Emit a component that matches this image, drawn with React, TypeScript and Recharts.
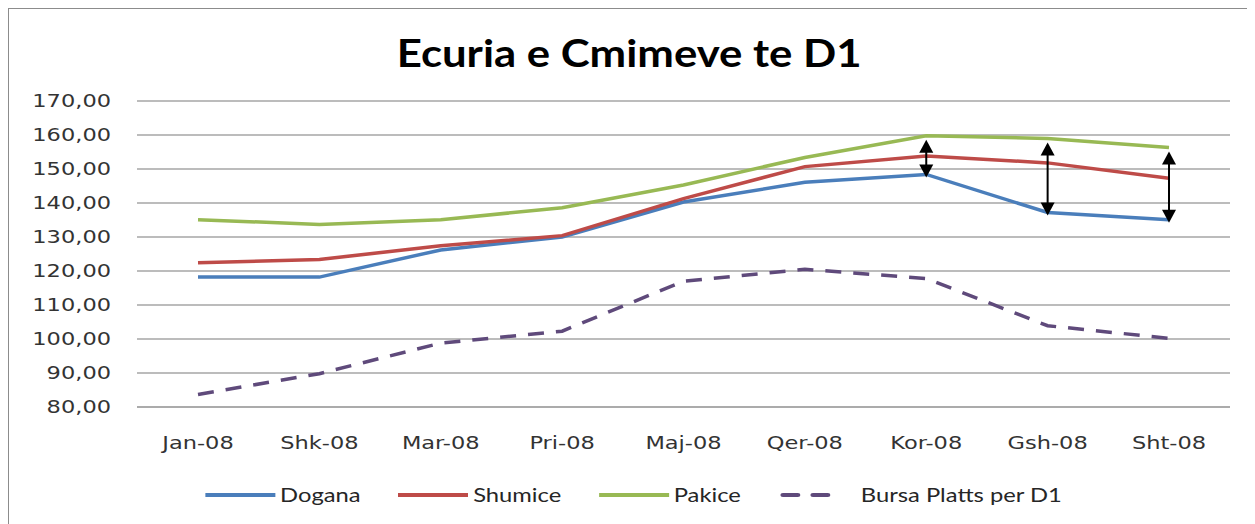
import { LineChart, Line, XAxis, YAxis, CartesianGrid, Legend, ReferenceLine } from "recharts";

const months = ["Jan-08", "Shk-08", "Mar-08", "Pri-08", "Maj-08", "Qer-08", "Kor-08", "Gsh-08", "Sht-08"];
const dogana = [118.2, 118.2, 126.2, 130.0, 140.3, 146.1, 148.4, 137.2, 135.1];
const shumice = [122.4, 123.4, 127.4, 130.4, 141.3, 150.7, 153.8, 151.8, 147.3];
const pakice = [135.1, 133.7, 135.1, 138.6, 145.3, 153.4, 159.8, 159.0, 156.3];
const bursa = [83.7, 89.8, 98.8, 102.3, 117.0, 120.5, 117.8, 103.9, 100.2];
const yTicks = [80, 90, 100, 110, 120, 130, 140, 150, 160, 170];
const arrowMonths = ["Kor-08", "Gsh-08", "Sht-08"];

const series = [
  { key: "dogana", name: "Dogana", color: "#4a7ebb", dash: undefined },
  { key: "shumice", name: "Shumice", color: "#be4b48", dash: undefined },
  { key: "pakice", name: "Pakice", color: "#98b954", dash: undefined },
  { key: "bursa", name: "Bursa Platts per D1", color: "#5f4a7b", dash: "16 12" },
];

const data = months.map((m, i) => ({
  month: m,
  dogana: dogana[i],
  shumice: shumice[i],
  pakice: pakice[i],
  bursa: bursa[i],
}));

const SX = 1.25;
const tickFont = "'DejaVu Sans', Verdana, sans-serif";

const YTick = (props: any) => {
  const { x, y, payload } = props;
  const label = payload.value.toFixed(2).replace(".", ",");
  return (
    <g transform={`translate(${x - 18},${y})`}>
      <text transform={`scale(${SX},1)`} textAnchor="end" dy={6} fontSize={18} fontFamily={tickFont} fill="#333">
        {label}
      </text>
    </g>
  );
};

const XTick = (props: any) => {
  const { x, y, payload } = props;
  return (
    <g transform={`translate(${x},${y})`}>
      <text transform={`scale(${SX},1)`} textAnchor="middle" dy={34} fontSize={18} fontFamily={tickFont} fill="#333">
        {payload.value}
      </text>
    </g>
  );
};

const Arrow = (props: any) => {
  const { x1, y1, y2 } = props;
  const top = Math.min(y1, y2) + 4;
  const bot = Math.max(y1, y2) + 3;
  const h = 13;
  const w = 7;
  return (
    <g>
      <line x1={x1} y1={top + h - 2} x2={x1} y2={bot - h + 2} stroke="#000" strokeWidth={2} />
      <polygon points={`${x1},${top} ${x1 - w},${top + h} ${x1 + w},${top + h}`} fill="#000" />
      <polygon points={`${x1},${bot} ${x1 - w},${bot - h} ${x1 + w},${bot - h}`} fill="#000" />
    </g>
  );
};

const LegendContent = () => (
  <div
    style={{
      display: "flex",
      justifyContent: "center",
      alignItems: "center",
      transform: `scaleX(${SX})`,
      fontFamily: "Lato, 'Open Sans', sans-serif",
      fontSize: 19,
      color: "#262626",
    }}
  >
    {series.map((s, i) => (
      <div key={s.key} style={{ display: "flex", alignItems: "center", marginRight: i < series.length - 1 ? 30 : 0 }}>
        <svg width={s.dash ? 48 : 56} height={10} style={{ marginRight: s.dash ? 18 : 4 }}>
          <line
            x1={s.dash ? 4 : 0}
            y1={5}
            x2={s.dash ? 44 : 56}
            y2={5}
            stroke={s.color}
            strokeWidth={4}
            strokeLinecap="round"
            strokeDasharray={s.dash ? "12 12" : undefined}
          />
        </svg>
        <span>{s.name}</span>
      </div>
    ))}
  </div>
);

export default function App() {
  return (
    <div
      style={{
        position: "relative",
        width: 1243,
        height: 530,
        border: "1px solid #8c8c8c",
        boxSizing: "border-box",
        background: "#fff",
      }}
    >
      <div
        style={{
          position: "absolute",
          top: 20,
          left: 0,
          width: "100%",
          textAlign: "center",
          fontFamily: "Lato, 'Open Sans', sans-serif",
          fontWeight: 700,
          fontSize: 38,
          color: "#000",
          zIndex: 2,
        }}
      >
        <span style={{ display: "inline-block", transform: "scaleX(1.15)" }}>Ecuria e Cmimeve te D1</span>
      </div>
      <LineChart
        width={1241}
        height={516}
        data={data}
        margin={{ top: 92, right: 20, bottom: 55, left: 28 }}
      >
        <CartesianGrid vertical={false} stroke="#a6a6a6" strokeWidth={1.5} />
        <XAxis
          dataKey="month"
          axisLine={{ stroke: "#a6a6a6", strokeWidth: 1.5 }}
          tickLine={false}
          tick={<XTick />}
          height={40}
          interval={0}
          padding={{ left: 61, right: 61 }}
        />
        <YAxis
          domain={[80, 170]}
          ticks={yTicks}
          axisLine={false}
          tickLine={false}
          tick={<YTick />}
          width={100}
          interval={0}
        />
        {series.map((s) => (
          <Line
            key={s.key}
            type="linear"
            dataKey={s.key}
            name={s.name}
            stroke={s.color}
            strokeWidth={3.5}
            strokeDasharray={s.dash}
            dot={false}
            isAnimationActive={false}
          />
        ))}
        {arrowMonths.map((m) => {
          const i = months.indexOf(m);
          return (
            <ReferenceLine
              key={m}
              segment={[
                { x: m, y: dogana[i] },
                { x: m, y: pakice[i] },
              ]}
              shape={<Arrow />}
              ifOverflow="visible"
            />
          );
        })}
        <Legend verticalAlign="bottom" content={<LegendContent />} wrapperStyle={{ top: 474, bottom: "auto" }} />
      </LineChart>
    </div>
  );
}
